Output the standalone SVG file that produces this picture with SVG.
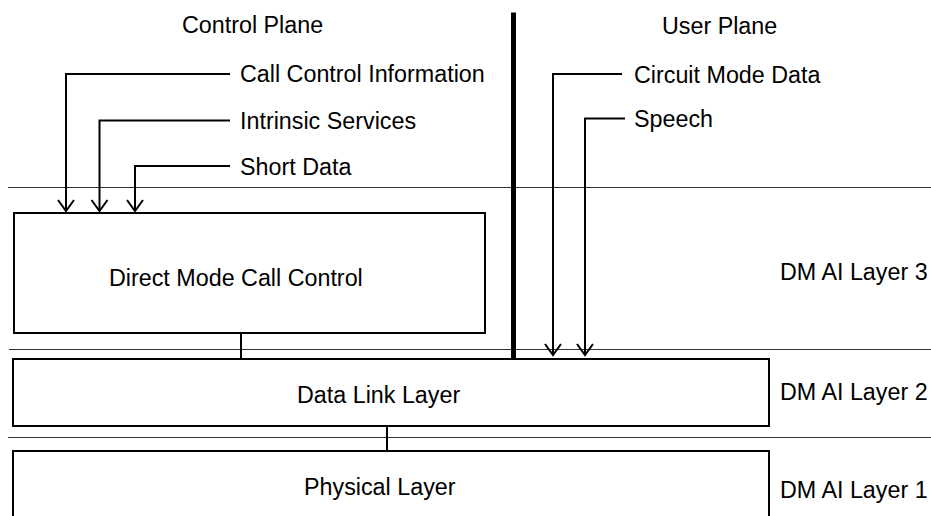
<svg xmlns="http://www.w3.org/2000/svg" width="931" height="516" viewBox="0 0 931 516">
<style>
text{font-family:"Liberation Sans",Arial,sans-serif;font-size:23.3px;fill:#000}
.box{fill:#fff;stroke:#000;stroke-width:2}
.sep{stroke:#333;stroke-width:1;fill:none}
.ln{stroke:#000;stroke-width:2;fill:none}
</style>
<defs>
<marker id="ah" markerWidth="20" markerHeight="20" refX="12" refY="10" markerUnits="userSpaceOnUse" orient="auto" viewBox="0 0 20 20">
<path d="M1 2 L12 10 L1 18" fill="none" stroke="#000" stroke-width="2"/>
</marker>
</defs>
<rect width="931" height="516" fill="#fff"/>
<g id="separators">
<line class="sep" x1="8" y1="187.5" x2="931" y2="187.5"/>
<line class="sep" x1="9" y1="349.5" x2="931" y2="349.5"/>
<line class="sep" x1="8" y1="437.5" x2="931" y2="437.5"/>
</g>
<g id="titles">
<text x="182" y="33">Control Plane</text>
<text x="662" y="34">User Plane</text>
<text x="780" y="280">DM AI Layer 3</text>
<text x="780" y="400">DM AI Layer 2</text>
<text x="780" y="498">DM AI Layer 1</text>
</g>
<g id="dmcc">
<rect class="box" x="14" y="213" width="471" height="120"/>
<text x="109" y="286">Direct Mode Call Control</text>
</g>
<g id="dll">
<rect class="box" x="13" y="359" width="756" height="67"/>
<text x="297" y="403">Data Link Layer</text>
</g>
<g id="pl">
<rect class="box" x="13" y="451" width="756" height="80"/>
<text x="304" y="495">Physical Layer</text>
</g>
<g id="inputs">
<text x="240" y="82">Call Control Information</text>
<text x="240" y="129">Intrinsic Services</text>
<text x="240" y="175">Short Data</text>
<text x="634" y="83">Circuit Mode Data</text>
<text x="634" y="127">Speech</text>
</g>
<g id="connectors">
<path class="ln" d="M230 74 H66 V211" marker-end="url(#ah)"/>
<path class="ln" d="M230 120.5 H99.5 V211" marker-end="url(#ah)"/>
<path class="ln" d="M230 166 H135 V211" marker-end="url(#ah)"/>
<path class="ln" d="M622 74 H553 V355" marker-end="url(#ah)"/>
<path class="ln" d="M625 118.5 H585 V355" marker-end="url(#ah)"/>
<line class="ln" x1="241" y1="333" x2="241" y2="358"/>
<line class="ln" x1="387" y1="426" x2="387" y2="450"/>
<line x1="513.5" y1="12.5" x2="513.5" y2="359" stroke="#000" stroke-width="5"/>
</g>
</svg>
